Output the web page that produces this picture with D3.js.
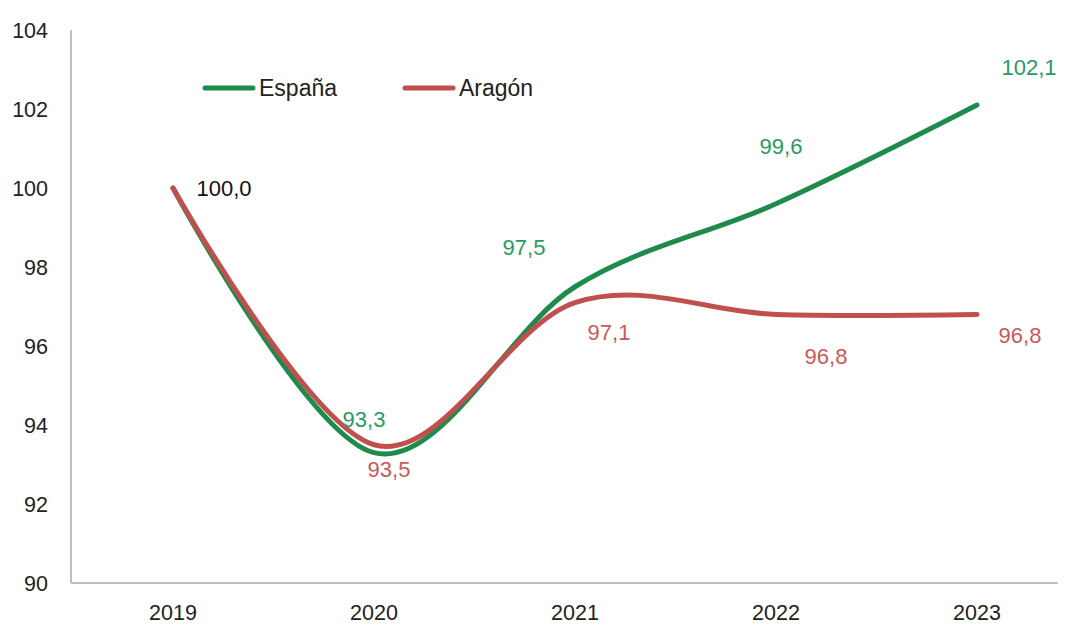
<!DOCTYPE html>
<html>
<head>
<meta charset="utf-8">
<script src="https://cdn.jsdelivr.net/npm/d3@7"></script>
<style>
  body { margin: 0; background: #fff; }
  svg { display: block; font-family: "Liberation Sans", Arial, sans-serif; }
</style>
</head>
<body>
<svg id="chart" width="1073" height="628"></svg>
<script>
const years = [2019, 2020, 2021, 2022, 2023];
const espana = [100.0, 93.3, 97.5, 99.6, 102.1];
const aragon = [100.0, 93.5, 97.1, 96.8, 96.8];
const yTicks = [90, 92, 94, 96, 98, 100, 102, 104];

// label offsets from each point (label centre), null = no label
const espanaLabelOffset = [[51, 0], [-10, -33], [-51, -39], [5, -58], [52, -38]];
const aragonLabelOffset = [null, [15, 25], [34, 30], [50, 42], [43, 21]];

const svg = d3.select('#chart');
const green = '#1e8a4c';
const red = '#c0504d';
const greenText = '#2a9a64';
const redText = '#c8595a';

const x = d3.scalePoint().domain(years).range([173, 977]);
const y = d3.scaleLinear().domain([90, 104]).range([583, 30]);

// axes
svg.append('line').attr('x1', 71).attr('x2', 71).attr('y1', 30).attr('y2', 583)
  .attr('stroke', '#bfbfbf').attr('stroke-width', 2);
svg.append('line').attr('x1', 71).attr('x2', 1058).attr('y1', 583).attr('y2', 583)
  .attr('stroke', '#bfbfbf').attr('stroke-width', 2);

svg.selectAll('text.ytick')
  .data(yTicks)
  .join('text')
  .attr('class', 'ytick')
  .attr('x', 48)
  .attr('y', d => y(d))
  .attr('dy', '0.35em')
  .attr('text-anchor', 'end')
  .attr('font-size', 21.5)
  .attr('fill', '#222')
  .text(d => d);

svg.selectAll('text.xtick')
  .data(years)
  .join('text')
  .attr('class', 'xtick')
  .attr('x', d => x(d))
  .attr('y', 612)
  .attr('dy', '0.35em')
  .attr('text-anchor', 'middle')
  .attr('font-size', 21.5)
  .attr('fill', '#222')
  .text(d => d);

const line = d3.line()
  .x((d, i) => x(years[i]))
  .y(d => y(d))
  .curve(d3.curveCardinal.tension(0));

svg.append('path').datum(espana)
  .attr('d', line).attr('fill', 'none')
  .attr('stroke', green).attr('stroke-width', 5).attr('stroke-linecap', 'round');
svg.append('path').datum(aragon)
  .attr('d', line).attr('fill', 'none')
  .attr('stroke', red).attr('stroke-width', 5).attr('stroke-linecap', 'round');

const fmt = v => v.toFixed(1).replace('.', ',');

function labels(values, offsets, color, cls) {
  const data = values.map((v, i) => ({ v, i, off: offsets[i] })).filter(d => d.off);
  svg.selectAll('text.' + cls)
    .data(data)
    .join('text')
    .attr('class', cls)
    .attr('x', d => x(years[d.i]) + d.off[0])
    .attr('y', d => y(d.v) + d.off[1])
    .attr('dy', '0.35em')
    .attr('text-anchor', 'middle')
    .attr('font-size', 22)
    .attr('fill', d => d.i === 0 ? '#111' : color)
    .text(d => fmt(d.v));
}
labels(espana, espanaLabelOffset, greenText, 'lab-es');
labels(aragon, aragonLabelOffset, redText, 'lab-ar');

// legend
const legend = [
  { name: 'España', color: green, x: 205 },
  { name: 'Aragón', color: red, x: 405 },
];
const lg = svg.selectAll('g.legend').data(legend).join('g').attr('class', 'legend');
lg.append('line')
  .attr('x1', d => d.x).attr('x2', d => d.x + 48)
  .attr('y1', 88).attr('y2', 88)
  .attr('stroke', d => d.color).attr('stroke-width', 5).attr('stroke-linecap', 'round');
lg.append('text')
  .attr('x', d => d.x + 54).attr('y', 88).attr('dy', '0.35em')
  .attr('font-size', 23).attr('fill', '#222')
  .text(d => d.name);
</script>
</body>
</html>
